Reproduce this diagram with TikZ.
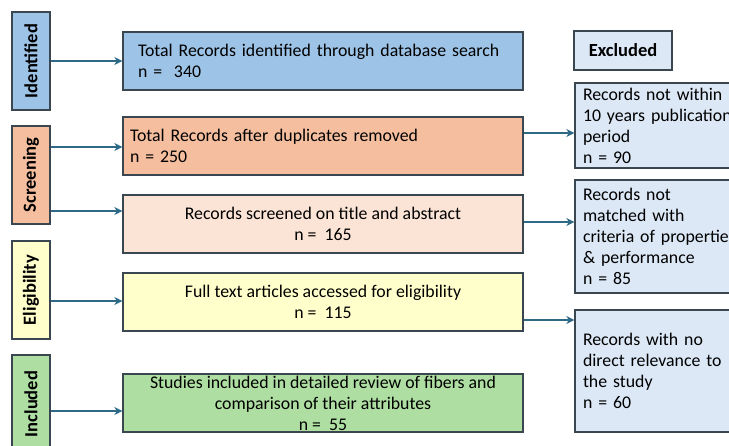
\documentclass[tikz,border=0pt]{standalone}
\usepackage{fontspec}
\setmainfont{Carlito}
\usetikzlibrary{arrows.meta}
\definecolor{cblue}{HTML}{9DC3E6}
\definecolor{corange}{HTML}{F5BF9F}
\definecolor{cpeach}{HTML}{FBE4D6}
\definecolor{cyellow}{HTML}{FFFFCC}
\definecolor{cgreen}{HTML}{AEDEA2}
\definecolor{cexcl}{HTML}{DCE8F6}
\definecolor{cedge}{HTML}{3A4650}
\definecolor{carrow}{HTML}{2E6985}
\tikzset{
  box/.style={draw=cedge, line width=1.3pt, minimum width=400pt, minimum height=58pt, inner sep=0pt,
    font=\fontsize{17.8}{21}\selectfont},
  stage/.style={draw=cedge, line width=1.3pt, minimum width=38pt, minimum height=98pt, inner sep=0pt},
  stagetext/.style={rotate=90, font=\fontsize{18.5}{20}\selectfont\bfseries},
  excl/.style={draw=cedge, line width=1.3pt, minimum width=200pt, inner sep=0pt, text width=184pt, align=left,
    font=\fontsize{17.8}{21}\selectfont},
  arr/.style={draw=carrow, line width=1.6pt, -{Stealth[length=8pt,width=8pt,inset=2.5pt]}}
}
\begin{document}
\begin{tikzpicture}[x=1pt,y=-1pt]
\useasboundingbox (0,0) rectangle (729,446);
\clip (0,0) rectangle (729,446);
\fill[white] (0,0) rectangle (729,446);
% stage boxes
\node[stage, fill=cblue] (lid) at (31,61) {};
\node[stagetext] at (lid.center) {Identified};
\node[stage, fill=corange] (lsc) at (31,175) {};
\node[stagetext] at (lsc.center) {Screening};
\node[stage, fill=cyellow] (lel) at (31,290) {};
\node[stagetext] at (lel.center) {Eligibility};
\node[stage, fill=cgreen] (lin) at (31,404) {};
\node[stagetext] at (lin.center) {Included};
% main boxes
\node[box, fill=cblue, text width=370pt, align=left] (b1) at (323,61) {Total Records identified through database search\\n = \ 340};
\node[box, fill=corange, text width=386pt, align=left] (b2) at (323,146) {Total Records after duplicates removed\\n = 250};
\node[box, fill=cpeach, align=center] (b3) at (323,224) {Records screened on title and abstract\\n = \ 165};
\node[box, fill=cyellow, align=center] (b4) at (323,302) {Full text articles accessed for eligibility\\n = \ 115};
\node[box, fill=cgreen, align=center] (b5) at (323,403) {Studies included in detailed review of fibers and\\comparison of their attributes\\n = \ 55};
% excluded
\node[draw=cedge, line width=1.3pt, fill=cexcl, minimum width=98pt, minimum height=39pt, inner sep=0pt,
  font=\fontsize{18.5}{20}\selectfont\bfseries] (ex) at (623,50.5) {Excluded};
\node[excl, fill=cexcl, minimum height=85pt] (e1) at (675,125.5) {Records not within\\10 years publication\\period\\n = 90};
\node[excl, fill=cexcl, minimum height=113pt] (e2) at (675,236.5) {Records not\\matched with\\criteria of properties\\\& performance\\n = 85};
\node[excl, fill=cexcl, minimum height=122pt] (e3) at (675,371) {Records with no\\direct relevance to\\the study\\n = 60};
% arrow levels
\coordinate (y1) at (0,61);
\coordinate (y2) at (0,147);
\coordinate (y3) at (0,211);
\coordinate (y4) at (0,301);
\coordinate (y5) at (0,411);
\coordinate (z1) at (0,133);
\coordinate (z2) at (0,222);
\coordinate (z3) at (0,320);
\draw[arr] (lid.east |- y1) -- (b1.west |- y1);
\draw[arr] (lsc.east |- y2) -- (b2.west |- y2);
\draw[arr] (lsc.east |- y3) -- (b3.west |- y3);
\draw[arr] (lel.east |- y4) -- (b4.west |- y4);
\draw[arr] (lin.east |- y5) -- (b5.west |- y5);
\draw[arr] (b2.east |- z1) -- (e1.west |- z1);
\draw[arr] (b3.east |- z2) -- (e2.west |- z2);
\draw[arr] (b4.east |- z3) -- (e3.west |- z3);
\end{tikzpicture}
\end{document}
